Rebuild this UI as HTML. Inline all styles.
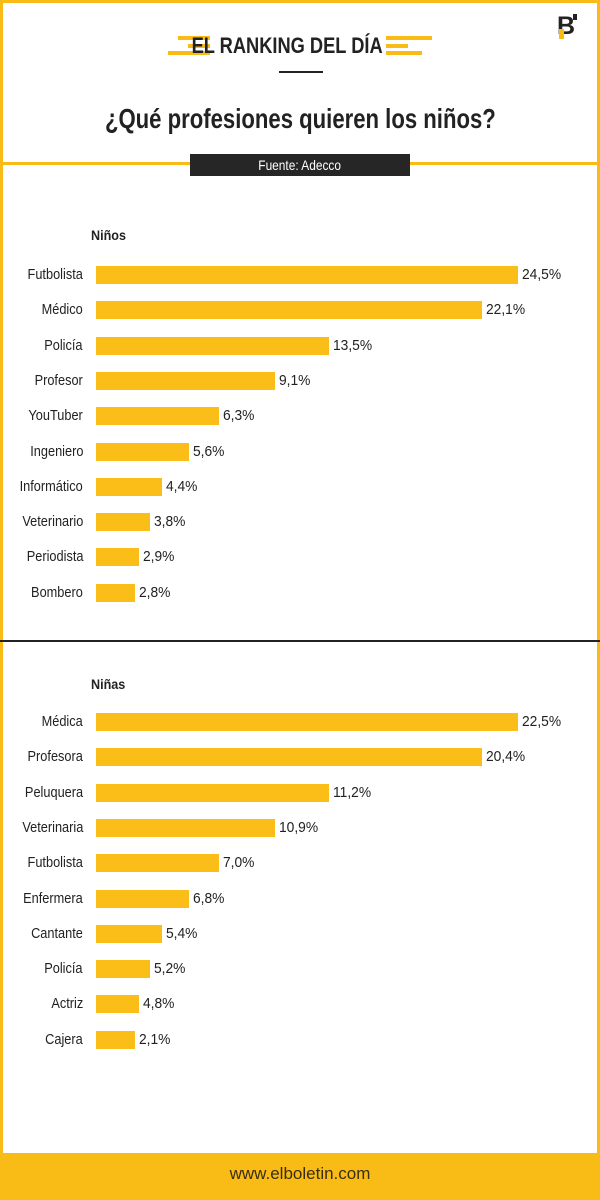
<!DOCTYPE html>
<html><head><meta charset="utf-8"><style>
*{margin:0;padding:0;box-sizing:border-box}
body{width:600px;height:1200px;position:relative;background:#fff;font-family:"Liberation Sans",sans-serif;color:#222;overflow:hidden}
.a{position:absolute}
.y{background:#f9bb16}
.lab{position:absolute;right:517px;font-size:14.5px;line-height:18px;text-align:right;white-space:nowrap;transform:scaleX(0.88);transform-origin:right center}
.bar{position:absolute;left:96px;height:18px;background:#fbbd17}
.val{position:absolute;font-size:15px;line-height:18px;white-space:nowrap;transform:scaleX(0.92);transform-origin:left center}
.h{position:absolute;left:91px;font-size:14px;font-weight:bold;transform:scaleX(0.9);transform-origin:left center}
.c{display:inline-block}
</style></head><body>
<div class="a y" style="left:0;top:0;width:600px;height:3px"></div>
<div class="a y" style="left:0;top:0;width:3px;height:1200px"></div>
<div class="a y" style="right:0;top:0;width:3px;height:1200px"></div>
<div class="a y" style="left:0;top:162px;width:600px;height:3px"></div>
<div class="a y" style="left:0;top:1153px;width:600px;height:47px"></div>
<div class="a" style="left:0;top:1164px;width:600px;text-align:center;font-size:17px;color:#3a2e10">www.elboletin.com</div>
<div class="a" style="left:557px;top:12px;font-size:25px;font-weight:bold;color:#222;line-height:28px">B</div>
<div class="a" style="left:573px;top:14px;width:4px;height:6px;background:#222"></div>
<div class="a y" style="left:559px;top:29px;width:5px;height:10px"></div>
<div class="a y" style="left:178px;top:36px;width:32px;height:4px"></div>
<div class="a y" style="left:188px;top:44px;width:22px;height:4px"></div>
<div class="a y" style="left:168px;top:51px;width:42px;height:4px"></div>
<div class="a y" style="left:386px;top:36px;width:46px;height:4px"></div>
<div class="a y" style="left:386px;top:44px;width:22px;height:4px"></div>
<div class="a y" style="left:386px;top:51px;width:36px;height:4px"></div>
<div class="a" style="left:0;top:32px;width:574px;text-align:center;font-size:22px;font-weight:bold;line-height:28px"><span class="c" style="transform:scaleX(0.83)">EL RANKING DEL DÍA</span></div>
<div class="a" style="left:279px;top:71px;width:44px;height:2px;background:#222"></div>
<div class="a" style="left:0;top:102px;width:600px;text-align:center;font-size:28px;font-weight:bold;line-height:34px"><span class="c" style="transform:scaleX(0.79)">¿Qué profesiones quieren los niños?</span></div>
<div class="a" style="left:190px;top:154px;width:220px;height:22px;background:#262626;color:#fff;text-align:center;font-size:14px;line-height:22px"><span class="c" style="transform:scaleX(0.85)">Fuente: Adecco</span></div>
<div class="a" style="left:0;top:640px;width:600px;height:2px;background:#222"></div>
<div class="h" style="top:227px">Niños</div>
<div class="h" style="top:676px">Niñas</div>
<div id="c"></div>
<script>
var e=[518,482,329,275,219,189,162,150,139,135];
var A=[["Futbolista","24,5%"],["Médico","22,1%"],["Policía","13,5%"],["Profesor","9,1%"],["YouTuber","6,3%"],["Ingeniero","5,6%"],["Informático","4,4%"],["Veterinario","3,8%"],["Periodista","2,9%"],["Bombero","2,8%"]];
var B=[["Médica","22,5%"],["Profesora","20,4%"],["Peluquera","11,2%"],["Veterinaria","10,9%"],["Futbolista","7,0%"],["Enfermera","6,8%"],["Cantante","5,4%"],["Policía","5,2%"],["Actriz","4,8%"],["Cajera","2,1%"]];
var h="";
function g(L,t0){L.forEach(function(r,i){var t=Math.round(t0+i*35.3);h+='<div class="lab" style="top:'+t+'px">'+r[0]+'</div><div class="bar" style="top:'+t+'px;width:'+(e[i]-96)+'px"></div><div class="val" style="top:'+t+'px;left:'+(e[i]+4)+'px">'+r[1]+'</div>';});}
g(A,266);g(B,713);
document.getElementById("c").innerHTML=h;
</script>
</body></html>
